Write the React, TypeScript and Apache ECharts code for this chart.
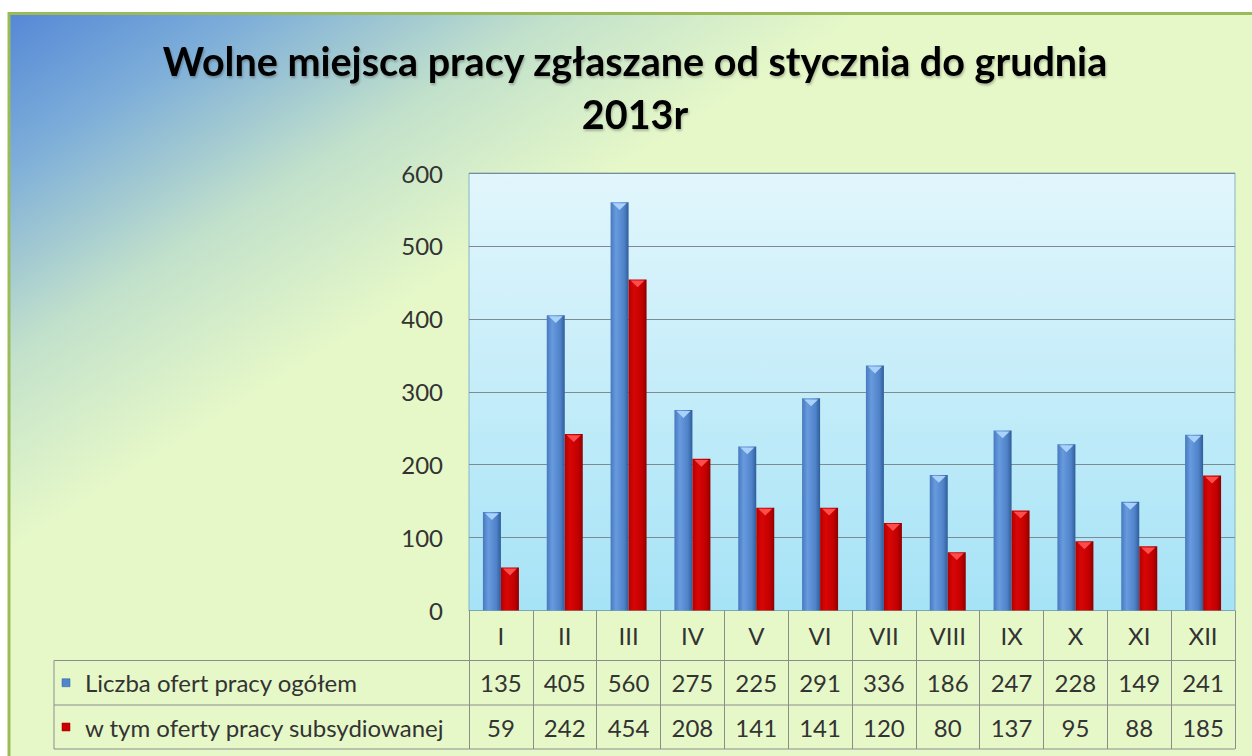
import React, { useEffect, useRef } from "react";
import * as echarts from "echarts";

const titleLines = ["Wolne miejsca pracy zgłaszane od stycznia do grudnia", "2013r"];
const months = ["I", "II", "III", "IV", "V", "VI", "VII", "VIII", "IX", "X", "XI", "XII"];
const seriesNames = ["Liczba ofert pracy ogółem", "w tym oferty pracy subsydiowanej"];
const totalOffers = [135, 405, 560, 275, 225, 291, 336, 186, 247, 228, 149, 241];
const subsidizedOffers = [59, 242, 454, 208, 141, 141, 120, 80, 137, 95, 88, 185];
const yMin = 0;
const yMax = 600;
const yStep = 100;

const W = 1252;
const H = 756;
const GRID_LEFT = 469;
const GRID_RIGHT = 1235;
const GRID_TOP = 173;
const GRID_BOTTOM = 610.5;
const TABLE_LEFT = 54;
const ROW1_TOP = 660.5;
const ROW2_TOP = 705;
const TABLE_BOTTOM = 749;
const FONT = "Lato, 'Open Sans', sans-serif";
const TEXT_COLOR = "#333333";
const LINE_COLOR = "#8c8c8c";
const LABEL_SIZE = 24;

const blueFill = new echarts.graphic.LinearGradient(0, 0, 1, 0, [
  { offset: 0, color: "#4879be" },
  { offset: 0.3, color: "#679ade" },
  { offset: 0.75, color: "#4f82c8" },
  { offset: 1, color: "#2f5d9a" },
]);
const redFill = new echarts.graphic.LinearGradient(0, 0, 1, 0, [
  { offset: 0, color: "#b40000" },
  { offset: 0.3, color: "#d80606" },
  { offset: 0.75, color: "#c20000" },
  { offset: 1, color: "#8e0000" },
]);
const seriesColors = [blueFill, redFill];
const capColors = ["#a9d2fa", "#ff4d4d"];
const swatchColors = ["#4f86cc", "#cc0000"];

export default function App() {
  const ref = useRef<HTMLDivElement>(null);
  useEffect(() => {
    if (!ref.current) return;
    const chart = echarts.init(ref.current, null, { renderer: "svg" });
    const colW = (GRID_RIGHT - GRID_LEFT) / months.length;
    const rows = [totalOffers, subsidizedOffers];
    const rowTops = [ROW1_TOP, ROW2_TOP];
    const rowBottoms = [ROW2_TOP, TABLE_BOTTOM];

    const graphics: any[] = [
      {
        type: "rect",
        z: -10,
        silent: true,
        shape: { x: 9, y: 13.5, width: W + 20, height: H + 20 },
        style: {
          fill: {
            type: "linear",
            x: 0,
            y: 0,
            x2: 250,
            y2: 400,
            global: true,
            colorStops: [
              { offset: 0, color: "#5083d6" },
              { offset: 0.3, color: "#7cadd9" },
              { offset: 0.65, color: "#c2e1cb" },
              { offset: 1, color: "#e6f8c8" },
            ],
          },
          stroke: "#9bbb59",
          lineWidth: 3,
        },
      },
    ];

    titleLines.forEach((t, i) => {
      graphics.push({
        type: "text",
        z: 10,
        silent: true,
        style: {
          x: 635,
          y: i === 0 ? 60 : 113,
          text: t,
          fill: "#000000",
          font: `bold 39.5px ${FONT}`,
          textAlign: "center",
          textVerticalAlign: "middle",
          textShadowColor: "rgba(0,0,0,0.25)",
          textShadowOffsetX: 1,
          textShadowOffsetY: 2,
          textShadowBlur: 2,
        },
      });
    });

    [ROW1_TOP, ROW2_TOP, TABLE_BOTTOM].forEach((y) => {
      graphics.push({
        type: "line",
        z: 10,
        silent: true,
        shape: { x1: TABLE_LEFT, y1: y, x2: GRID_RIGHT, y2: y },
        style: { stroke: LINE_COLOR, lineWidth: 1 },
      });
    });
    graphics.push({
      type: "line",
      z: 10,
      silent: true,
      shape: { x1: TABLE_LEFT, y1: ROW1_TOP, x2: TABLE_LEFT, y2: TABLE_BOTTOM },
      style: { stroke: LINE_COLOR, lineWidth: 1 },
    });

    rows.forEach((vals, r) => {
      const cy = (rowTops[r] + rowBottoms[r]) / 2;
      graphics.push({
        type: "rect",
        z: 10,
        silent: true,
        shape: { x: 62, y: cy - 4, width: 8, height: 8 },
        style: { fill: swatchColors[r], stroke: r === 0 ? "#2f5d9a" : "#8e0000", lineWidth: 0.5 },
      });
      graphics.push({
        type: "text",
        z: 10,
        silent: true,
        style: {
          x: 85,
          y: cy,
          text: seriesNames[r],
          fill: TEXT_COLOR,
          font: `${LABEL_SIZE}px ${FONT}`,
          textAlign: "left",
          textVerticalAlign: "middle",
        },
      });
      vals.forEach((v, i) => {
        graphics.push({
          type: "text",
          z: 10,
          silent: true,
          style: {
            x: GRID_LEFT + (i + 0.5) * colW,
            y: cy,
            text: String(v),
            fill: TEXT_COLOR,
            font: `${LABEL_SIZE}px ${FONT}`,
            textAlign: "center",
            textVerticalAlign: "middle",
          },
        });
      });
    });

    const capSeries = (data: number[], color: string) => ({
      type: "pictorialBar",
      data,
      barWidth: 18,
      barGap: "0%",
      symbol: "triangle",
      symbolRotate: 180,
      symbolSize: [14, 7],
      symbolPosition: "end",
      symbolOffset: [0, 1],
      itemStyle: { color },
      z: 5,
      silent: true,
    });

    const option: any = {
      animation: false,
      grid: {
        left: GRID_LEFT,
        top: GRID_TOP,
        width: GRID_RIGHT - GRID_LEFT,
        height: GRID_BOTTOM - GRID_TOP,
        show: true,
        borderColor: "#86b4c6",
        borderWidth: 1,
        backgroundColor: new echarts.graphic.LinearGradient(0, 0, 0, 1, [
          { offset: 0, color: "#e2f6fc" },
          { offset: 1, color: "#a6e3f6" },
        ]),
      },
      xAxis: {
        type: "category",
        data: months,
        axisLine: { show: true, lineStyle: { color: "#7da7b8", width: 1 } },
        axisTick: {
          show: true,
          interval: 0,
          alignWithLabel: false,
          length: TABLE_BOTTOM - GRID_BOTTOM,
          lineStyle: { color: LINE_COLOR, width: 1 },
        },
        axisLabel: {
          interval: 0,
          margin: 13,
          color: TEXT_COLOR,
          fontFamily: FONT,
          fontSize: LABEL_SIZE,
        },
      },
      yAxis: {
        type: "value",
        min: yMin,
        max: yMax,
        interval: yStep,
        axisLine: { show: false },
        axisTick: { show: false },
        axisLabel: {
          margin: 26,
          color: TEXT_COLOR,
          fontFamily: FONT,
          fontSize: LABEL_SIZE,
        },
        splitLine: { show: true, lineStyle: { color: "#7d8c92", width: 1 } },
      },
      series: [
        {
          name: seriesNames[0],
          type: "bar",
          data: totalOffers,
          barWidth: 18,
          barGap: "0%",
          itemStyle: { color: seriesColors[0] },
          z: 2,
        },
        {
          name: seriesNames[1],
          type: "bar",
          data: subsidizedOffers,
          barWidth: 18,
          barGap: "0%",
          itemStyle: { color: seriesColors[1] },
          z: 2,
        },
        capSeries(totalOffers, capColors[0]),
        capSeries(subsidizedOffers, capColors[1]),
      ],
      graphic: { elements: graphics },
    };
    chart.setOption(option);
    return () => chart.dispose();
  }, []);
  return (
    <div
      ref={ref}
      style={{ position: "absolute", left: 0, top: 0, width: W, height: H, background: "#ffffff" }}
    />
  );
}
